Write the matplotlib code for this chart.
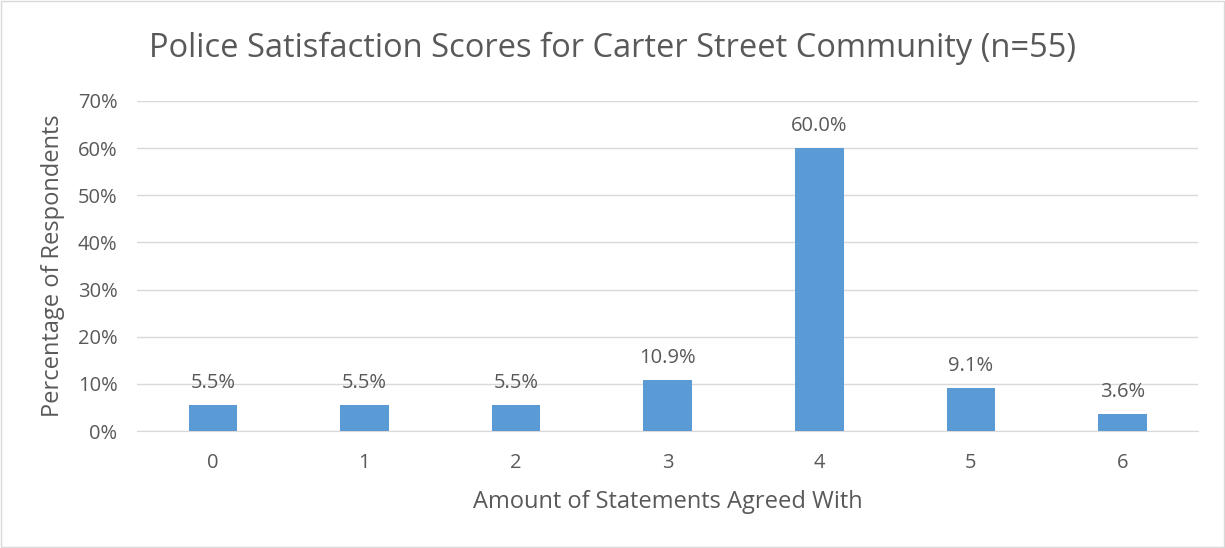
import matplotlib
matplotlib.use("Agg")
import matplotlib.pyplot as plt
from matplotlib.patches import Rectangle

categories = ["0", "1", "2", "3", "4", "5", "6"]
values = [5.5, 5.5, 5.5, 10.9, 60.0, 9.1, 3.6]
value_labels = ["5.5%", "5.5%", "5.5%", "10.9%", "60.0%", "9.1%", "3.6%"]
yticks = [0, 10, 20, 30, 40, 50, 60, 70]

plt.rcParams['font.family'] = ['Open Sans', 'DejaVu Sans']
text_color = '#595959'

fig = plt.figure(figsize=(12.25, 5.48), dpi=100)
fig.patches.append(Rectangle((0.001, 0.001), 0.998, 0.997, transform=fig.transFigure,
                             fill=False, edgecolor='#D9D9D9', linewidth=1))
ax = fig.add_axes([0.1118, 0.2135, 0.8665, 0.6022])
x = range(len(categories))
ax.bar(x, values, width=0.32, color='#5B9BD5', zorder=3)
for xi, v, lab in zip(x, values, value_labels):
    ax.text(xi, v + 3.6, lab, ha='center', va='baseline', fontsize=14.5, color=text_color)

ax.set_xlim(-0.5, len(categories) - 0.5)
ax.set_ylim(0, 70)
ax.set_yticks(yticks)
ax.set_yticklabels([f"{t}%" for t in yticks])
ax.set_xticks(list(x))
ax.set_xticklabels(categories)
ax.tick_params(length=0, labelsize=14.5, labelcolor=text_color)
ax.tick_params(axis='x', pad=16)
ax.tick_params(axis='y', pad=14)
ax.grid(axis='y', color='#D9D9D9', linewidth=1, zorder=0)
for s in ['top', 'right', 'left']:
    ax.spines[s].set_visible(False)
ax.spines['bottom'].set_color('#D9D9D9')
ax.set_xlabel("Amount of Statements Agreed With", fontsize=17, color=text_color, labelpad=12)
ax.set_ylabel("Percentage of Respondents", fontsize=17, color=text_color, labelpad=9)
fig.text(0.5, 0.912, "Police Satisfaction Scores for Carter Street Community (n=55)",
         ha='center', va='center', fontsize=23.5, color=text_color)
fig.savefig("out.png", dpi=100)
